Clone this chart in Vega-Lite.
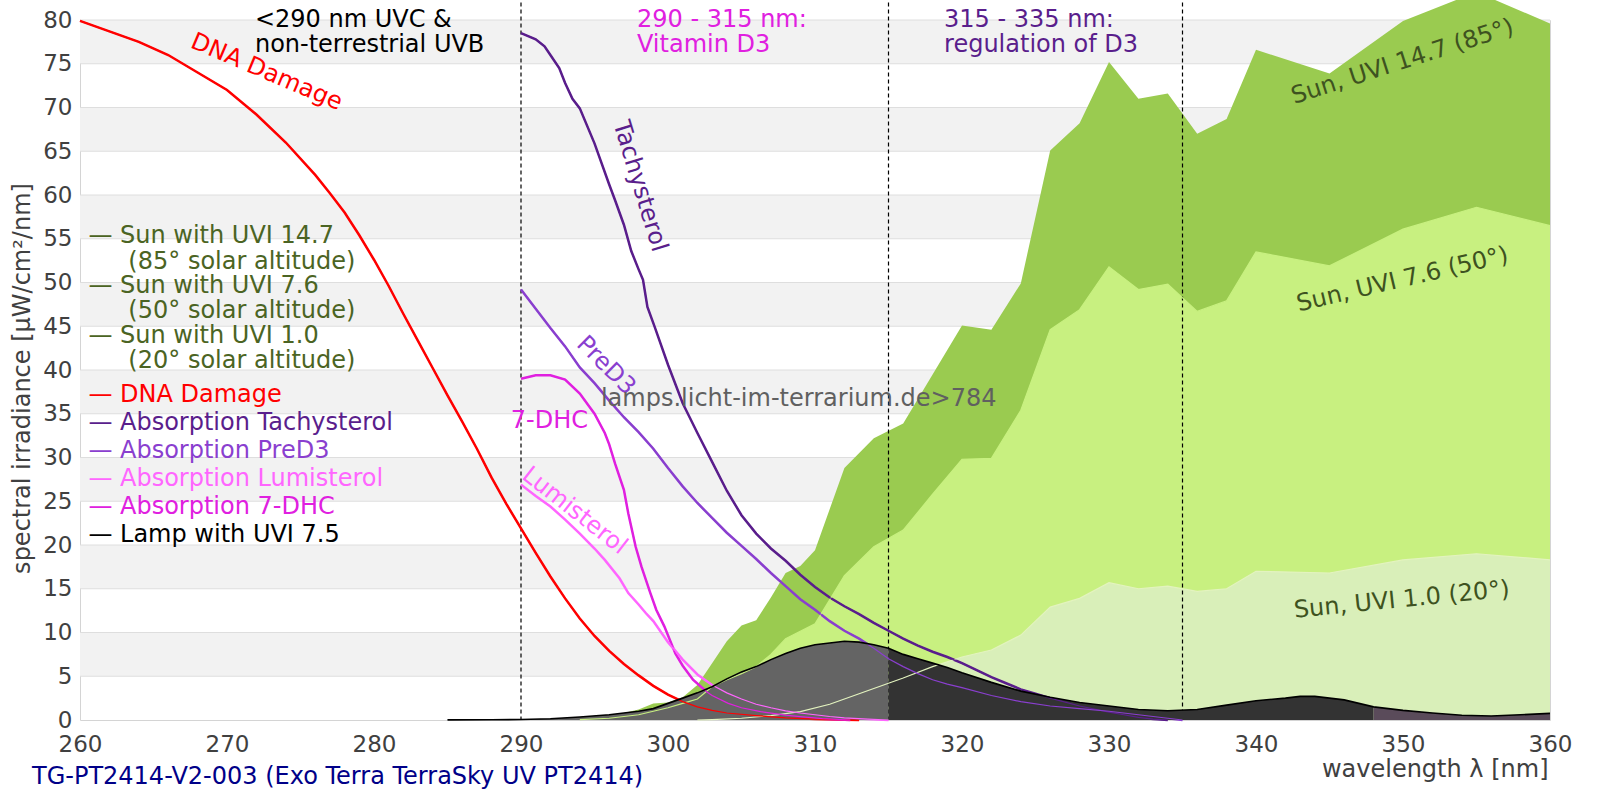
{
  "$schema": "https://vega.github.io/schema/vega-lite/v6.json",
  "width": 1470,
  "height": 700,
  "autosize": {"type": "none"},
  "padding": {"left": 80, "top": 20, "right": 50, "bottom": 80},
  "background": "white",
  "config": {
    "font": "DejaVu Sans",
    "view": {"stroke": "#d4d4d4", "strokeWidth": 1},
    "text": {"fontSize": 24},
    "axis": {
      "grid": false, "ticks": false, "domain": false,
      "labelFontSize": 23, "labelColor": "#404040",
      "labelFlush": false, "labelOverlap": false,
      "titleFontSize": 24, "titleFontWeight": "normal", "titleColor": "#404040"
    },
    "axisX": {
      "tickCount": 10, "labelPadding": 13,
      "titleAlign": "right", "titleBaseline": "alphabetic", "titleX": 1468, "titleY": 56
    },
    "axisY": {
      "tickCount": 16, "labelPadding": 8,
      "titleAngle": 270, "titleAlign": "center", "titleBaseline": "alphabetic",
      "titleX": -51, "titleY": 358
    }
  },
  "title": {
    "text": "TG-PT2414-V2-003 (Exo Terra TerraSky UV PT2414)",
    "orient": "bottom", "anchor": "start", "frame": "group",
    "dx": -48, "offset": -16,
    "font": "DejaVu Sans", "fontSize": 24, "fontWeight": "normal", "color": "#000088"
  },
  "datasets": {
    "bands": [
      {"lo": 5, "hi": 10}, {"lo": 15, "hi": 20}, {"lo": 25, "hi": 30}, {"lo": 35, "hi": 40},
      {"lo": 45, "hi": 50}, {"lo": 55, "hi": 60}, {"lo": 65, "hi": 70}, {"lo": 75, "hi": 80}
    ],
    "sun": [
      {"wl": 294, "uvi": "14.7", "irr": 0.1}, {"wl": 296, "uvi": "14.7", "irr": 0.5}, {"wl": 297, "uvi": "14.7", "irr": 0.8},
      {"wl": 298, "uvi": "14.7", "irr": 1.2}, {"wl": 299, "uvi": "14.7", "irr": 1.9}, {"wl": 300, "uvi": "14.7", "irr": 2.0},
      {"wl": 301, "uvi": "14.7", "irr": 2.6}, {"wl": 302, "uvi": "14.7", "irr": 4.0}, {"wl": 303, "uvi": "14.7", "irr": 6.5},
      {"wl": 304, "uvi": "14.7", "irr": 9.0}, {"wl": 305, "uvi": "14.7", "irr": 10.8}, {"wl": 306, "uvi": "14.7", "irr": 11.4},
      {"wl": 307, "uvi": "14.7", "irr": 14.0}, {"wl": 308, "uvi": "14.7", "irr": 16.8}, {"wl": 309, "uvi": "14.7", "irr": 17.6},
      {"wl": 310, "uvi": "14.7", "irr": 19.4}, {"wl": 312, "uvi": "14.7", "irr": 28.8}, {"wl": 314, "uvi": "14.7", "irr": 32.2},
      {"wl": 316, "uvi": "14.7", "irr": 33.9}, {"wl": 318, "uvi": "14.7", "irr": 39.5}, {"wl": 320, "uvi": "14.7", "irr": 45.1},
      {"wl": 322, "uvi": "14.7", "irr": 44.6}, {"wl": 324, "uvi": "14.7", "irr": 49.9}, {"wl": 326, "uvi": "14.7", "irr": 65.1},
      {"wl": 328, "uvi": "14.7", "irr": 68.2}, {"wl": 330, "uvi": "14.7", "irr": 75.2}, {"wl": 332, "uvi": "14.7", "irr": 71.0},
      {"wl": 334, "uvi": "14.7", "irr": 71.6}, {"wl": 336, "uvi": "14.7", "irr": 67.0}, {"wl": 338, "uvi": "14.7", "irr": 68.7},
      {"wl": 340, "uvi": "14.7", "irr": 76.6}, {"wl": 345, "uvi": "14.7", "irr": 73.9}, {"wl": 350, "uvi": "14.7", "irr": 79.9},
      {"wl": 355, "uvi": "14.7", "irr": 83.2}, {"wl": 360, "uvi": "14.7", "irr": 79.6},
      {"wl": 294, "uvi": "7.6", "irr": 0.05}, {"wl": 296, "uvi": "7.6", "irr": 0.2}, {"wl": 298, "uvi": "7.6", "irr": 0.6},
      {"wl": 299, "uvi": "7.6", "irr": 1.0}, {"wl": 300, "uvi": "7.6", "irr": 1.4}, {"wl": 301, "uvi": "7.6", "irr": 1.9},
      {"wl": 302, "uvi": "7.6", "irr": 2.4}, {"wl": 303, "uvi": "7.6", "irr": 3.8}, {"wl": 304, "uvi": "7.6", "irr": 4.6},
      {"wl": 305, "uvi": "7.6", "irr": 5.3}, {"wl": 306, "uvi": "7.6", "irr": 6.1}, {"wl": 307, "uvi": "7.6", "irr": 7.5},
      {"wl": 308, "uvi": "7.6", "irr": 9.3}, {"wl": 310, "uvi": "7.6", "irr": 11.0}, {"wl": 312, "uvi": "7.6", "irr": 16.5},
      {"wl": 314, "uvi": "7.6", "irr": 19.8}, {"wl": 316, "uvi": "7.6", "irr": 21.7}, {"wl": 318, "uvi": "7.6", "irr": 25.8},
      {"wl": 320, "uvi": "7.6", "irr": 29.8}, {"wl": 322, "uvi": "7.6", "irr": 29.9}, {"wl": 324, "uvi": "7.6", "irr": 35.4},
      {"wl": 326, "uvi": "7.6", "irr": 44.6}, {"wl": 328, "uvi": "7.6", "irr": 46.9}, {"wl": 330, "uvi": "7.6", "irr": 51.8},
      {"wl": 332, "uvi": "7.6", "irr": 49.2}, {"wl": 334, "uvi": "7.6", "irr": 49.8}, {"wl": 336, "uvi": "7.6", "irr": 46.7},
      {"wl": 338, "uvi": "7.6", "irr": 47.9}, {"wl": 340, "uvi": "7.6", "irr": 53.5}, {"wl": 345, "uvi": "7.6", "irr": 51.9},
      {"wl": 350, "uvi": "7.6", "irr": 56.1}, {"wl": 355, "uvi": "7.6", "irr": 58.6}, {"wl": 360, "uvi": "7.6", "irr": 56.5},
      {"wl": 302, "uvi": "1.0", "irr": 0.0}, {"wl": 303, "uvi": "1.0", "irr": 0.05}, {"wl": 305, "uvi": "1.0", "irr": 0.2},
      {"wl": 307, "uvi": "1.0", "irr": 0.5}, {"wl": 309, "uvi": "1.0", "irr": 0.95}, {"wl": 311, "uvi": "1.0", "irr": 1.8},
      {"wl": 313, "uvi": "1.0", "irr": 3.0}, {"wl": 315, "uvi": "1.0", "irr": 4.2}, {"wl": 316, "uvi": "1.0", "irr": 4.8},
      {"wl": 318, "uvi": "1.0", "irr": 6.1}, {"wl": 320, "uvi": "1.0", "irr": 7.2}, {"wl": 322, "uvi": "1.0", "irr": 8.0},
      {"wl": 324, "uvi": "1.0", "irr": 9.7}, {"wl": 326, "uvi": "1.0", "irr": 12.9}, {"wl": 328, "uvi": "1.0", "irr": 13.9},
      {"wl": 330, "uvi": "1.0", "irr": 15.7}, {"wl": 332, "uvi": "1.0", "irr": 15.0}, {"wl": 334, "uvi": "1.0", "irr": 15.3},
      {"wl": 336, "uvi": "1.0", "irr": 14.7}, {"wl": 338, "uvi": "1.0", "irr": 15.0}, {"wl": 340, "uvi": "1.0", "irr": 17.0},
      {"wl": 345, "uvi": "1.0", "irr": 16.8}, {"wl": 350, "uvi": "1.0", "irr": 18.3}, {"wl": 355, "uvi": "1.0", "irr": 19.0},
      {"wl": 360, "uvi": "1.0", "irr": 18.3}
    ],
    "lamp": [
      {"wl": 285, "irr": 0.02}, {"wl": 288, "irr": 0.03}, {"wl": 290, "irr": 0.05}, {"wl": 292, "irr": 0.15},
      {"wl": 294, "irr": 0.35}, {"wl": 296, "irr": 0.6}, {"wl": 298, "irr": 1.0}, {"wl": 299, "irr": 1.3},
      {"wl": 300, "irr": 1.9}, {"wl": 301, "irr": 2.5}, {"wl": 302, "irr": 3.1}, {"wl": 303, "irr": 3.8},
      {"wl": 304, "irr": 4.7}, {"wl": 305, "irr": 5.5}, {"wl": 306, "irr": 6.1}, {"wl": 307, "irr": 6.9},
      {"wl": 308, "irr": 7.6}, {"wl": 309, "irr": 8.2}, {"wl": 310, "irr": 8.6}, {"wl": 311, "irr": 8.8},
      {"wl": 312, "irr": 9.0}, {"wl": 313, "irr": 8.9}, {"wl": 314, "irr": 8.6}, {"wl": 315, "irr": 8.2},
      {"wl": 316, "irr": 7.5}, {"wl": 317, "irr": 7.0}, {"wl": 318, "irr": 6.5}, {"wl": 319, "irr": 6.0},
      {"wl": 320, "irr": 5.4}, {"wl": 322, "irr": 4.3}, {"wl": 324, "irr": 3.3}, {"wl": 326, "irr": 2.6},
      {"wl": 328, "irr": 2.0}, {"wl": 330, "irr": 1.6}, {"wl": 332, "irr": 1.2}, {"wl": 334, "irr": 1.05},
      {"wl": 336, "irr": 1.2}, {"wl": 338, "irr": 1.7}, {"wl": 340, "irr": 2.2}, {"wl": 342, "irr": 2.5},
      {"wl": 343, "irr": 2.7}, {"wl": 344, "irr": 2.7}, {"wl": 346, "irr": 2.3}, {"wl": 348, "irr": 1.5},
      {"wl": 350, "irr": 1.1}, {"wl": 352, "irr": 0.8}, {"wl": 354, "irr": 0.55}, {"wl": 356, "irr": 0.45},
      {"wl": 358, "irr": 0.6}, {"wl": 360, "irr": 0.76}
    ],
    "curves": [
      {"wl": 260, "curve": "DNA", "irr": 79.9}, {"wl": 262, "curve": "DNA", "irr": 78.7}, {"wl": 264, "curve": "DNA", "irr": 77.5},
      {"wl": 266, "curve": "DNA", "irr": 76.0}, {"wl": 268, "curve": "DNA", "irr": 74.0}, {"wl": 270, "curve": "DNA", "irr": 72.0},
      {"wl": 272, "curve": "DNA", "irr": 69.2}, {"wl": 274, "curve": "DNA", "irr": 66.0}, {"wl": 276, "curve": "DNA", "irr": 62.3},
      {"wl": 277, "curve": "DNA", "irr": 60.2}, {"wl": 278, "curve": "DNA", "irr": 58.0}, {"wl": 279, "curve": "DNA", "irr": 55.4},
      {"wl": 280, "curve": "DNA", "irr": 52.6}, {"wl": 281, "curve": "DNA", "irr": 49.6}, {"wl": 282, "curve": "DNA", "irr": 46.4},
      {"wl": 283, "curve": "DNA", "irr": 43.3}, {"wl": 284, "curve": "DNA", "irr": 40.2}, {"wl": 285, "curve": "DNA", "irr": 37.1},
      {"wl": 286, "curve": "DNA", "irr": 34.1}, {"wl": 287, "curve": "DNA", "irr": 31.0}, {"wl": 288, "curve": "DNA", "irr": 27.7},
      {"wl": 289, "curve": "DNA", "irr": 24.7}, {"wl": 290, "curve": "DNA", "irr": 21.9}, {"wl": 291, "curve": "DNA", "irr": 19.1},
      {"wl": 292, "curve": "DNA", "irr": 16.4}, {"wl": 293, "curve": "DNA", "irr": 13.9}, {"wl": 294, "curve": "DNA", "irr": 11.6},
      {"wl": 295, "curve": "DNA", "irr": 9.6}, {"wl": 296, "curve": "DNA", "irr": 7.9}, {"wl": 297, "curve": "DNA", "irr": 6.4},
      {"wl": 298, "curve": "DNA", "irr": 5.1}, {"wl": 299, "curve": "DNA", "irr": 3.9}, {"wl": 300, "curve": "DNA", "irr": 2.9},
      {"wl": 301, "curve": "DNA", "irr": 2.1}, {"wl": 302, "curve": "DNA", "irr": 1.5}, {"wl": 303, "curve": "DNA", "irr": 1.1},
      {"wl": 304, "curve": "DNA", "irr": 0.8}, {"wl": 306, "curve": "DNA", "irr": 0.5}, {"wl": 308, "curve": "DNA", "irr": 0.25},
      {"wl": 310, "curve": "DNA", "irr": 0.1}, {"wl": 312, "curve": "DNA", "irr": 0.03}, {"wl": 313, "curve": "DNA", "irr": 0},
      {"wl": 290, "curve": "Tachysterol", "irr": 78.5}, {"wl": 291, "curve": "Tachysterol", "irr": 77.8}, {"wl": 291.6, "curve": "Tachysterol", "irr": 77.0},
      {"wl": 292, "curve": "Tachysterol", "irr": 76.0}, {"wl": 292.6, "curve": "Tachysterol", "irr": 74.5}, {"wl": 293, "curve": "Tachysterol", "irr": 72.8},
      {"wl": 293.5, "curve": "Tachysterol", "irr": 71.0}, {"wl": 294, "curve": "Tachysterol", "irr": 69.9}, {"wl": 295, "curve": "Tachysterol", "irr": 65.9},
      {"wl": 296, "curve": "Tachysterol", "irr": 61.2}, {"wl": 296.4, "curve": "Tachysterol", "irr": 59.4}, {"wl": 297, "curve": "Tachysterol", "irr": 56.6},
      {"wl": 297.5, "curve": "Tachysterol", "irr": 53.6}, {"wl": 298, "curve": "Tachysterol", "irr": 51.5}, {"wl": 298.3, "curve": "Tachysterol", "irr": 50.3},
      {"wl": 298.6, "curve": "Tachysterol", "irr": 47.2}, {"wl": 299.1, "curve": "Tachysterol", "irr": 44.9}, {"wl": 300, "curve": "Tachysterol", "irr": 40.6},
      {"wl": 301, "curve": "Tachysterol", "irr": 36.2}, {"wl": 302, "curve": "Tachysterol", "irr": 32.8}, {"wl": 303, "curve": "Tachysterol", "irr": 29.5},
      {"wl": 304, "curve": "Tachysterol", "irr": 26.2}, {"wl": 305, "curve": "Tachysterol", "irr": 23.4}, {"wl": 306, "curve": "Tachysterol", "irr": 21.3},
      {"wl": 307, "curve": "Tachysterol", "irr": 19.6}, {"wl": 308, "curve": "Tachysterol", "irr": 18.2}, {"wl": 309, "curve": "Tachysterol", "irr": 16.6},
      {"wl": 310, "curve": "Tachysterol", "irr": 15.2}, {"wl": 311, "curve": "Tachysterol", "irr": 14.0}, {"wl": 312, "curve": "Tachysterol", "irr": 13.0},
      {"wl": 313, "curve": "Tachysterol", "irr": 12.1}, {"wl": 314, "curve": "Tachysterol", "irr": 11.1}, {"wl": 315, "curve": "Tachysterol", "irr": 10.2},
      {"wl": 316, "curve": "Tachysterol", "irr": 9.3}, {"wl": 317, "curve": "Tachysterol", "irr": 8.5}, {"wl": 318, "curve": "Tachysterol", "irr": 7.8},
      {"wl": 319, "curve": "Tachysterol", "irr": 7.2}, {"wl": 320, "curve": "Tachysterol", "irr": 6.5}, {"wl": 321, "curve": "Tachysterol", "irr": 5.7},
      {"wl": 322, "curve": "Tachysterol", "irr": 4.9}, {"wl": 323, "curve": "Tachysterol", "irr": 4.2}, {"wl": 324, "curve": "Tachysterol", "irr": 3.5},
      {"wl": 325, "curve": "Tachysterol", "irr": 3.0}, {"wl": 326, "curve": "Tachysterol", "irr": 2.5}, {"wl": 328, "curve": "Tachysterol", "irr": 1.6},
      {"wl": 330, "curve": "Tachysterol", "irr": 0.9}, {"wl": 331, "curve": "Tachysterol", "irr": 0.6}, {"wl": 332, "curve": "Tachysterol", "irr": 0.3},
      {"wl": 333, "curve": "Tachysterol", "irr": 0.1}, {"wl": 334, "curve": "Tachysterol", "irr": 0},
      {"wl": 290, "curve": "PreD3", "irr": 49.2}, {"wl": 291, "curve": "PreD3", "irr": 47.0}, {"wl": 292, "curve": "PreD3", "irr": 44.8},
      {"wl": 293, "curve": "PreD3", "irr": 42.7}, {"wl": 294, "curve": "PreD3", "irr": 40.3}, {"wl": 295, "curve": "PreD3", "irr": 38.5},
      {"wl": 296, "curve": "PreD3", "irr": 36.5}, {"wl": 297, "curve": "PreD3", "irr": 34.6}, {"wl": 298, "curve": "PreD3", "irr": 32.9},
      {"wl": 299, "curve": "PreD3", "irr": 31.0}, {"wl": 300, "curve": "PreD3", "irr": 28.8}, {"wl": 301, "curve": "PreD3", "irr": 26.7},
      {"wl": 302, "curve": "PreD3", "irr": 24.8}, {"wl": 303, "curve": "PreD3", "irr": 23.1}, {"wl": 304, "curve": "PreD3", "irr": 21.4},
      {"wl": 305, "curve": "PreD3", "irr": 19.9}, {"wl": 306, "curve": "PreD3", "irr": 18.4}, {"wl": 307, "curve": "PreD3", "irr": 16.8},
      {"wl": 308, "curve": "PreD3", "irr": 15.3}, {"wl": 309, "curve": "PreD3", "irr": 13.8}, {"wl": 310, "curve": "PreD3", "irr": 12.6},
      {"wl": 311, "curve": "PreD3", "irr": 11.3}, {"wl": 312, "curve": "PreD3", "irr": 10.2}, {"wl": 313, "curve": "PreD3", "irr": 9.3},
      {"wl": 314, "curve": "PreD3", "irr": 8.2}, {"wl": 315, "curve": "PreD3", "irr": 7.0}, {"wl": 316, "curve": "PreD3", "irr": 6.1},
      {"wl": 317, "curve": "PreD3", "irr": 5.3}, {"wl": 318, "curve": "PreD3", "irr": 4.6}, {"wl": 319, "curve": "PreD3", "irr": 4.1},
      {"wl": 320, "curve": "PreD3", "irr": 3.7}, {"wl": 322, "curve": "PreD3", "irr": 2.8}, {"wl": 324, "curve": "PreD3", "irr": 2.1},
      {"wl": 326, "curve": "PreD3", "irr": 1.6}, {"wl": 328, "curve": "PreD3", "irr": 1.3}, {"wl": 330, "curve": "PreD3", "irr": 1.0},
      {"wl": 332, "curve": "PreD3", "irr": 0.6}, {"wl": 334, "curve": "PreD3", "irr": 0.2}, {"wl": 335, "curve": "PreD3", "irr": 0},
      {"wl": 290, "curve": "7-DHC", "irr": 39.0}, {"wl": 291, "curve": "7-DHC", "irr": 39.4}, {"wl": 292, "curve": "7-DHC", "irr": 39.4},
      {"wl": 293, "curve": "7-DHC", "irr": 38.9}, {"wl": 294, "curve": "7-DHC", "irr": 37.3}, {"wl": 295, "curve": "7-DHC", "irr": 35.0},
      {"wl": 295.7, "curve": "7-DHC", "irr": 32.8}, {"wl": 296, "curve": "7-DHC", "irr": 31.5}, {"wl": 296.4, "curve": "7-DHC", "irr": 29.3},
      {"wl": 297, "curve": "7-DHC", "irr": 26.3}, {"wl": 297.3, "curve": "7-DHC", "irr": 23.6}, {"wl": 297.8, "curve": "7-DHC", "irr": 19.8},
      {"wl": 298.2, "curve": "7-DHC", "irr": 17.5}, {"wl": 298.8, "curve": "7-DHC", "irr": 14.5}, {"wl": 299.2, "curve": "7-DHC", "irr": 12.6},
      {"wl": 299.75, "curve": "7-DHC", "irr": 10.7}, {"wl": 300.5, "curve": "7-DHC", "irr": 7.6}, {"wl": 301, "curve": "7-DHC", "irr": 6.2},
      {"wl": 301.7, "curve": "7-DHC", "irr": 4.6}, {"wl": 302.65, "curve": "7-DHC", "irr": 3.2}, {"wl": 303, "curve": "7-DHC", "irr": 2.8},
      {"wl": 304.1, "curve": "7-DHC", "irr": 1.9}, {"wl": 305, "curve": "7-DHC", "irr": 1.4}, {"wl": 306.3, "curve": "7-DHC", "irr": 0.95},
      {"wl": 308, "curve": "7-DHC", "irr": 0.55}, {"wl": 309, "curve": "7-DHC", "irr": 0.38}, {"wl": 310.5, "curve": "7-DHC", "irr": 0.15},
      {"wl": 312.4, "curve": "7-DHC", "irr": 0},
      {"wl": 290, "curve": "Lumisterol", "irr": 26.9}, {"wl": 291, "curve": "Lumisterol", "irr": 25.6}, {"wl": 292, "curve": "Lumisterol", "irr": 24.4},
      {"wl": 293, "curve": "Lumisterol", "irr": 22.9}, {"wl": 294, "curve": "Lumisterol", "irr": 21.3}, {"wl": 295, "curve": "Lumisterol", "irr": 19.6},
      {"wl": 295.7, "curve": "Lumisterol", "irr": 18.3}, {"wl": 296.7, "curve": "Lumisterol", "irr": 16.2}, {"wl": 297.3, "curve": "Lumisterol", "irr": 14.5},
      {"wl": 298, "curve": "Lumisterol", "irr": 13.2}, {"wl": 298.5, "curve": "Lumisterol", "irr": 12.2}, {"wl": 299, "curve": "Lumisterol", "irr": 11.3},
      {"wl": 300, "curve": "Lumisterol", "irr": 8.9}, {"wl": 301, "curve": "Lumisterol", "irr": 6.9}, {"wl": 302, "curve": "Lumisterol", "irr": 5.2},
      {"wl": 303, "curve": "Lumisterol", "irr": 4.0}, {"wl": 304, "curve": "Lumisterol", "irr": 3.1}, {"wl": 305, "curve": "Lumisterol", "irr": 2.4},
      {"wl": 306, "curve": "Lumisterol", "irr": 1.8}, {"wl": 307, "curve": "Lumisterol", "irr": 1.4}, {"wl": 308, "curve": "Lumisterol", "irr": 1.05},
      {"wl": 309, "curve": "Lumisterol", "irr": 0.8}, {"wl": 310, "curve": "Lumisterol", "irr": 0.6}, {"wl": 311, "curve": "Lumisterol", "irr": 0.4},
      {"wl": 312, "curve": "Lumisterol", "irr": 0.25}, {"wl": 313.6, "curve": "Lumisterol", "irr": 0.1}, {"wl": 315, "curve": "Lumisterol", "irr": 0}
    ],
    "legend": [
      {"wl": 260.57, "irr": 54.55, "key": "sun", "text": "— Sun with UVI 14.7"},
      {"wl": 263.29, "irr": 51.6, "key": "sun", "text": "(85° solar altitude)"},
      {"wl": 260.57, "irr": 48.83, "key": "sun", "text": "— Sun with UVI 7.6"},
      {"wl": 263.29, "irr": 45.9, "key": "sun", "text": "(50° solar altitude)"},
      {"wl": 260.57, "irr": 43.1, "key": "sun", "text": "— Sun with UVI 1.0"},
      {"wl": 263.29, "irr": 40.2, "key": "sun", "text": "(20° solar altitude)"},
      {"wl": 260.57, "irr": 36.4, "key": "DNA", "text": "— DNA Damage"},
      {"wl": 260.57, "irr": 33.14, "key": "Tachysterol", "text": "— Absorption Tachysterol"},
      {"wl": 260.57, "irr": 29.9, "key": "PreD3", "text": "— Absorption PreD3"},
      {"wl": 260.57, "irr": 26.74, "key": "Lumisterol", "text": "— Absorption Lumisterol"},
      {"wl": 260.57, "irr": 23.6, "key": "7-DHC", "text": "— Absorption 7-DHC"},
      {"wl": 260.57, "irr": 20.4, "key": "lamp", "text": "— Lamp with UVI 7.5"}
    ],
    "rules": [{"wl": 290}, {"wl": 315}, {"wl": 335}]
  },
  "layer": [
    {
      "data": {"name": "bands"},
      "mark": {"type": "rect", "color": "#f2f2f2"},
      "encoding": {
        "y": {"field": "lo", "type": "quantitative", "scale": {"domain": [0, 80], "nice": false, "zero": false}, "title": "spectral irradiance [µW/cm²/nm]"},
        "y2": {"field": "hi"}
      }
    },
    {
      "data": {"name": "bands"},
      "mark": {"type": "rule", "color": "#dedede", "strokeWidth": 1},
      "encoding": {
        "y": {"field": "lo", "type": "quantitative", "scale": {"domain": [0, 80], "nice": false, "zero": false}, "title": "spectral irradiance [µW/cm²/nm]"}
      }
    },
    {
      "data": {"name": "bands"},
      "mark": {"type": "rule", "color": "#dedede", "strokeWidth": 1},
      "encoding": {
        "y": {"field": "hi", "type": "quantitative", "scale": {"domain": [0, 80], "nice": false, "zero": false}, "title": "spectral irradiance [µW/cm²/nm]"}
      }
    },
    {
      "data": {"name": "sun"},
      "transform": [{"filter": "datum.uvi === '14.7'"}],
      "mark": {"type": "area", "color": "#9acb50"},
      "encoding": {
        "x": {"field": "wl", "type": "quantitative", "scale": {"domain": [260, 360], "nice": false, "zero": false}, "title": "wavelength λ [nm]"},
        "y": {"field": "irr", "type": "quantitative", "scale": {"domain": [0, 80], "nice": false, "zero": false}, "title": "spectral irradiance [µW/cm²/nm]"}
      }
    },
    {
      "data": {"name": "sun"},
      "transform": [{"filter": "datum.uvi === '7.6'"}],
      "mark": {"type": "area", "color": "#c8f080"},
      "encoding": {
        "x": {"field": "wl", "type": "quantitative", "scale": {"domain": [260, 360], "nice": false, "zero": false}, "title": "wavelength λ [nm]"},
        "y": {"field": "irr", "type": "quantitative", "scale": {"domain": [0, 80], "nice": false, "zero": false}, "title": "spectral irradiance [µW/cm²/nm]"}
      }
    },
    {
      "data": {"name": "sun"},
      "transform": [{"filter": "datum.uvi === '1.0'"}],
      "mark": {"type": "area", "color": "#d9efb9"},
      "encoding": {
        "x": {"field": "wl", "type": "quantitative", "scale": {"domain": [260, 360], "nice": false, "zero": false}, "title": "wavelength λ [nm]"},
        "y": {"field": "irr", "type": "quantitative", "scale": {"domain": [0, 80], "nice": false, "zero": false}, "title": "spectral irradiance [µW/cm²/nm]"}
      }
    },
    {
      "data": {"name": "rules"},
      "mark": {"type": "rule", "color": "black", "strokeWidth": 1.2, "strokeDash": [4, 3]},
      "encoding": {
        "x": {"field": "wl", "type": "quantitative", "scale": {"domain": [260, 360], "nice": false, "zero": false}, "title": "wavelength λ [nm]"},
        "y": {"datum": 90, "type": "quantitative", "scale": {"domain": [0, 80], "nice": false, "zero": false}, "title": "spectral irradiance [µW/cm²/nm]"},
        "y2": {"datum": 0}
      }
    },
    {
      "data": {"name": "curves"},
      "mark": {"type": "line", "strokeWidth": 2.5},
      "encoding": {
        "x": {"field": "wl", "type": "quantitative", "scale": {"domain": [260, 360], "nice": false, "zero": false}, "title": "wavelength λ [nm]"},
        "y": {"field": "irr", "type": "quantitative", "scale": {"domain": [0, 80], "nice": false, "zero": false}, "title": "spectral irradiance [µW/cm²/nm]"},
        "color": {
          "field": "curve", "type": "nominal", "legend": null,
          "scale": {
            "domain": ["sun", "DNA", "Tachysterol", "PreD3", "Lumisterol", "7-DHC", "lamp"],
            "range": ["#4b6423", "#ff0000", "#5a1e8c", "#8a3fcf", "#ff66ff", "#e020e0", "#000000"]
          }
        }
      }
    },
    {
      "data": {"name": "lamp"},
      "transform": [{"filter": "datum.wl <= 315"}],
      "mark": {"type": "area", "color": "#646464"},
      "encoding": {
        "x": {"field": "wl", "type": "quantitative", "scale": {"domain": [260, 360], "nice": false, "zero": false}, "title": "wavelength λ [nm]"},
        "y": {"field": "irr", "type": "quantitative", "scale": {"domain": [0, 80], "nice": false, "zero": false}, "title": "spectral irradiance [µW/cm²/nm]"}
      }
    },
    {
      "data": {"name": "lamp"},
      "transform": [{"filter": "datum.wl >= 315 && datum.wl <= 348"}],
      "mark": {"type": "area", "color": "#333333"},
      "encoding": {
        "x": {"field": "wl", "type": "quantitative", "scale": {"domain": [260, 360], "nice": false, "zero": false}, "title": "wavelength λ [nm]"},
        "y": {"field": "irr", "type": "quantitative", "scale": {"domain": [0, 80], "nice": false, "zero": false}, "title": "spectral irradiance [µW/cm²/nm]"}
      }
    },
    {
      "data": {"name": "lamp"},
      "transform": [{"filter": "datum.wl >= 348"}],
      "mark": {"type": "area", "color": "#5a4b5a"},
      "encoding": {
        "x": {"field": "wl", "type": "quantitative", "scale": {"domain": [260, 360], "nice": false, "zero": false}, "title": "wavelength λ [nm]"},
        "y": {"field": "irr", "type": "quantitative", "scale": {"domain": [0, 80], "nice": false, "zero": false}, "title": "spectral irradiance [µW/cm²/nm]"}
      }
    },
    {
      "data": {"name": "sun"},
      "transform": [{"filter": "datum.uvi === '7.6'"}],
      "mark": {"type": "line", "color": "#c8f080", "strokeWidth": 1.2},
      "encoding": {
        "x": {"field": "wl", "type": "quantitative", "scale": {"domain": [260, 360], "nice": false, "zero": false}, "title": "wavelength λ [nm]"},
        "y": {"field": "irr", "type": "quantitative", "scale": {"domain": [0, 80], "nice": false, "zero": false}, "title": "spectral irradiance [µW/cm²/nm]"}
      }
    },
    {
      "data": {"name": "sun"},
      "transform": [{"filter": "datum.uvi === '1.0'"}],
      "mark": {"type": "line", "color": "#e3f3bf", "strokeWidth": 1.2},
      "encoding": {
        "x": {"field": "wl", "type": "quantitative", "scale": {"domain": [260, 360], "nice": false, "zero": false}, "title": "wavelength λ [nm]"},
        "y": {"field": "irr", "type": "quantitative", "scale": {"domain": [0, 80], "nice": false, "zero": false}, "title": "spectral irradiance [µW/cm²/nm]"}
      }
    },
    {
      "data": {"name": "curves"},
      "mark": {"type": "line", "strokeWidth": 1.2},
      "encoding": {
        "x": {"field": "wl", "type": "quantitative", "scale": {"domain": [260, 360], "nice": false, "zero": false}, "title": "wavelength λ [nm]"},
        "y": {"field": "irr", "type": "quantitative", "scale": {"domain": [0, 80], "nice": false, "zero": false}, "title": "spectral irradiance [µW/cm²/nm]"},
        "color": {
          "field": "curve", "type": "nominal", "legend": null,
          "scale": {
            "domain": ["sun", "DNA", "Tachysterol", "PreD3", "Lumisterol", "7-DHC", "lamp"],
            "range": ["#4b6423", "#ff0000", "#5a1e8c", "#8a3fcf", "#ff66ff", "#e020e0", "#000000"]
          }
        }
      }
    },
    {
      "data": {"name": "lamp"},
      "mark": {"type": "line", "color": "black", "strokeWidth": 1.6},
      "encoding": {
        "x": {"field": "wl", "type": "quantitative", "scale": {"domain": [260, 360], "nice": false, "zero": false}, "title": "wavelength λ [nm]"},
        "y": {"field": "irr", "type": "quantitative", "scale": {"domain": [0, 80], "nice": false, "zero": false}, "title": "spectral irradiance [µW/cm²/nm]"}
      }
    },
    {
      "data": {"name": "legend"},
      "mark": {"type": "text", "align": "left", "baseline": "alphabetic", "fontSize": 24},
      "encoding": {
        "x": {"field": "wl", "type": "quantitative", "scale": {"domain": [260, 360], "nice": false, "zero": false}, "title": "wavelength λ [nm]"},
        "y": {"field": "irr", "type": "quantitative", "scale": {"domain": [0, 80], "nice": false, "zero": false}, "title": "spectral irradiance [µW/cm²/nm]"},
        "text": {"field": "text"},
        "color": {
          "field": "key", "type": "nominal", "legend": null,
          "scale": {
            "domain": ["sun", "DNA", "Tachysterol", "PreD3", "Lumisterol", "7-DHC", "lamp"],
            "range": ["#4b6423", "#ff0000", "#5a1e8c", "#8a3fcf", "#ff66ff", "#e020e0", "#000000"]
          }
        }
      }
    },
    {
      "data": {"values": [
        {"wl": 271.9, "irr": 79.2, "text": "<290 nm UVC &\nnon-terrestrial UVB", "key": "lamp"},
        {"wl": 297.89, "irr": 79.2, "text": "290 - 315 nm:\nVitamin D3", "key": "7-DHC"},
        {"wl": 318.78, "irr": 79.2, "text": "315 - 335 nm:\nregulation of D3", "key": "Tachysterol"}
      ]},
      "mark": {"type": "text", "align": "left", "baseline": "alphabetic", "lineBreak": "\n", "lineHeight": 25},
      "encoding": {
        "x": {"field": "wl", "type": "quantitative", "scale": {"domain": [260, 360], "nice": false, "zero": false}, "title": "wavelength λ [nm]"},
        "y": {"field": "irr", "type": "quantitative", "scale": {"domain": [0, 80], "nice": false, "zero": false}, "title": "spectral irradiance [µW/cm²/nm]"},
        "text": {"field": "text"},
        "color": {
          "field": "key", "type": "nominal", "legend": null,
          "scale": {
            "domain": ["sun", "DNA", "Tachysterol", "PreD3", "Lumisterol", "7-DHC", "lamp"],
            "range": ["#4b6423", "#ff0000", "#5a1e8c", "#8a3fcf", "#ff66ff", "#e020e0", "#000000"]
          }
        }
      }
    },
    {
      "data": {"values": [{"wl": 272.69, "irr": 74.03, "text": "DNA Damage"}]},
      "mark": {"type": "text", "align": "center", "baseline": "middle", "angle": 23, "color": "#ff0000"},
      "encoding": {
        "x": {"field": "wl", "type": "quantitative", "scale": {"domain": [260, 360], "nice": false, "zero": false}, "title": "wavelength λ [nm]"},
        "y": {"field": "irr", "type": "quantitative", "scale": {"domain": [0, 80], "nice": false, "zero": false}, "title": "spectral irradiance [µW/cm²/nm]"},
        "text": {"field": "text"}
      }
    },
    {
      "data": {"values": [{"wl": 298.08, "irr": 61.0, "text": "Tachysterol"}]},
      "mark": {"type": "text", "align": "center", "baseline": "middle", "angle": 73, "color": "#5a1e8c"},
      "encoding": {
        "x": {"field": "wl", "type": "quantitative", "scale": {"domain": [260, 360], "nice": false, "zero": false}, "title": "wavelength λ [nm]"},
        "y": {"field": "irr", "type": "quantitative", "scale": {"domain": [0, 80], "nice": false, "zero": false}, "title": "spectral irradiance [µW/cm²/nm]"},
        "text": {"field": "text"}
      }
    },
    {
      "data": {"values": [{"wl": 295.77, "irr": 40.5, "text": "PreD3"}]},
      "mark": {"type": "text", "align": "center", "baseline": "middle", "angle": 45, "color": "#8a3fcf"},
      "encoding": {
        "x": {"field": "wl", "type": "quantitative", "scale": {"domain": [260, 360], "nice": false, "zero": false}, "title": "wavelength λ [nm]"},
        "y": {"field": "irr", "type": "quantitative", "scale": {"domain": [0, 80], "nice": false, "zero": false}, "title": "spectral irradiance [µW/cm²/nm]"},
        "text": {"field": "text"}
      }
    },
    {
      "data": {"values": [{"wl": 293.64, "irr": 23.9, "text": "Lumisterol"}]},
      "mark": {"type": "text", "align": "center", "baseline": "middle", "angle": 38, "color": "#ff66ff"},
      "encoding": {
        "x": {"field": "wl", "type": "quantitative", "scale": {"domain": [260, 360], "nice": false, "zero": false}, "title": "wavelength λ [nm]"},
        "y": {"field": "irr", "type": "quantitative", "scale": {"domain": [0, 80], "nice": false, "zero": false}, "title": "spectral irradiance [µW/cm²/nm]"},
        "text": {"field": "text"}
      }
    },
    {
      "data": {"values": [{"wl": 291.93, "irr": 33.33, "text": "7-DHC"}]},
      "mark": {"type": "text", "align": "center", "baseline": "alphabetic", "color": "#e020e0"},
      "encoding": {
        "x": {"field": "wl", "type": "quantitative", "scale": {"domain": [260, 360], "nice": false, "zero": false}, "title": "wavelength λ [nm]"},
        "y": {"field": "irr", "type": "quantitative", "scale": {"domain": [0, 80], "nice": false, "zero": false}, "title": "spectral irradiance [µW/cm²/nm]"},
        "text": {"field": "text"}
      }
    },
    {
      "data": {"values": [{"wl": 308.89, "irr": 35.89, "text": "lamps.licht-im-terrarium.de>784"}]},
      "mark": {"type": "text", "align": "center", "baseline": "alphabetic", "color": "#606060"},
      "encoding": {
        "x": {"field": "wl", "type": "quantitative", "scale": {"domain": [260, 360], "nice": false, "zero": false}, "title": "wavelength λ [nm]"},
        "y": {"field": "irr", "type": "quantitative", "scale": {"domain": [0, 80], "nice": false, "zero": false}, "title": "spectral irradiance [µW/cm²/nm]"},
        "text": {"field": "text"}
      }
    },
    {
      "data": {"values": [{"wl": 349.97, "irr": 75.2, "text": "Sun, UVI 14.7 (85°)"}]},
      "mark": {"type": "text", "align": "center", "baseline": "middle", "angle": -17.7, "color": "#3e5220"},
      "encoding": {
        "x": {"field": "wl", "type": "quantitative", "scale": {"domain": [260, 360], "nice": false, "zero": false}, "title": "wavelength λ [nm]"},
        "y": {"field": "irr", "type": "quantitative", "scale": {"domain": [0, 80], "nice": false, "zero": false}, "title": "spectral irradiance [µW/cm²/nm]"},
        "text": {"field": "text"}
      }
    },
    {
      "data": {"values": [{"wl": 349.97, "irr": 50.3, "text": "Sun, UVI 7.6 (50°)"}]},
      "mark": {"type": "text", "align": "center", "baseline": "middle", "angle": -13.3, "color": "#3e5220"},
      "encoding": {
        "x": {"field": "wl", "type": "quantitative", "scale": {"domain": [260, 360], "nice": false, "zero": false}, "title": "wavelength λ [nm]"},
        "y": {"field": "irr", "type": "quantitative", "scale": {"domain": [0, 80], "nice": false, "zero": false}, "title": "spectral irradiance [µW/cm²/nm]"},
        "text": {"field": "text"}
      }
    },
    {
      "data": {"values": [{"wl": 349.92, "irr": 13.7, "text": "Sun, UVI 1.0 (20°)"}]},
      "mark": {"type": "text", "align": "center", "baseline": "middle", "angle": -5.6, "color": "#3e5220"},
      "encoding": {
        "x": {"field": "wl", "type": "quantitative", "scale": {"domain": [260, 360], "nice": false, "zero": false}, "title": "wavelength λ [nm]"},
        "y": {"field": "irr", "type": "quantitative", "scale": {"domain": [0, 80], "nice": false, "zero": false}, "title": "spectral irradiance [µW/cm²/nm]"},
        "text": {"field": "text"}
      }
    }
  ]
}
